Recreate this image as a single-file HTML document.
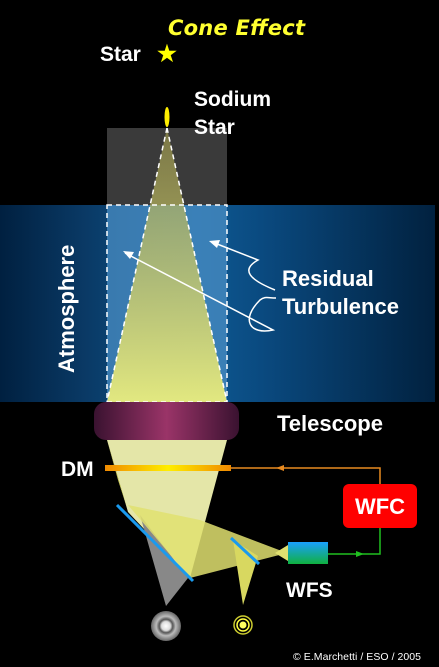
<!DOCTYPE html>
<html><head><meta charset="utf-8"><style>
body{margin:0;background:#000;width:439px;height:667px;overflow:hidden}
svg{display:block}
text{font-family:"Liberation Sans",sans-serif;font-weight:bold;fill:#fff}
</style></head><body>
<svg width="439" height="667" viewBox="0 0 439 667">
<defs>
<linearGradient id="atm" x1="0" x2="1"><stop offset="0" stop-color="#002040"/><stop offset="0.2" stop-color="#0a3a66"/><stop offset="0.45" stop-color="#0f5a93"/><stop offset="0.6" stop-color="#0a4a80"/><stop offset="1" stop-color="#01213f"/></linearGradient>
<linearGradient id="tel" x1="0" x2="1"><stop offset="0" stop-color="#3a1230"/><stop offset="0.5" stop-color="#9a3468"/><stop offset="1" stop-color="#3a1230"/></linearGradient>
<linearGradient id="cone" x1="0" y1="0" x2="0" y2="1"><stop offset="0" stop-color="#a6a050" stop-opacity="0.6"/><stop offset="1" stop-color="#e2e880"/></linearGradient>
<linearGradient id="dm" x1="0" x2="1"><stop offset="0" stop-color="#f08a00"/><stop offset="0.5" stop-color="#ffee00"/><stop offset="1" stop-color="#f08a00"/></linearGradient>
<linearGradient id="wfs" x1="0" y1="0" x2="0" y2="1"><stop offset="0" stop-color="#1aa0ff"/><stop offset="1" stop-color="#10b040"/></linearGradient>
<radialGradient id="spot1"><stop offset="0" stop-color="#fff"/><stop offset="0.3" stop-color="#ddd"/><stop offset="0.45" stop-color="#555"/><stop offset="0.65" stop-color="#bbb"/><stop offset="1" stop-color="#666"/></radialGradient>
</defs>
<rect x="0" y="205" width="435" height="197" fill="url(#atm)"/>
<rect x="107" y="128" width="120" height="77" fill="#3a3a3a"/>
<rect x="107" y="205" width="120" height="197" fill="#4a8ec4" opacity="0.75"/>
<polygon points="167,128 107,402 227,402" fill="url(#cone)"/>
<rect x="107" y="205" width="120" height="197" fill="none" stroke="#fff" stroke-width="1.5" stroke-dasharray="5,4"/>
<line x1="167" y1="128" x2="107" y2="402" stroke="#fff" stroke-width="1.5" stroke-dasharray="5,4"/>
<line x1="167" y1="128" x2="227" y2="402" stroke="#fff" stroke-width="1.5" stroke-dasharray="5,4"/>
<polygon points="107,440 227,440 190,578 128,512" fill="#e4e6a8"/>
<polygon points="107,440 127,508 118,480" fill="#cccc50"/>
<polygon points="140,515 188,578 166,606" fill="#888"/>
<polygon points="128,505 190,578 287,553 200,520" fill="#e0e070" opacity="0.85"/>
<polygon points="233,540 258,556 243,605" fill="#d8d860"/>
<polygon points="275,553 288,545 288,561" fill="#e0e070"/>
<rect x="94" y="402" width="145" height="38" rx="12" fill="url(#tel)"/>
<rect x="105" y="465" width="126" height="6" fill="url(#dm)"/>
<line x1="117" y1="505" x2="193" y2="581" stroke="#1a9aee" stroke-width="3"/>
<line x1="231" y1="538" x2="259" y2="564" stroke="#1a9aee" stroke-width="3"/>
<polyline points="231,468 380,468 380,484" fill="none" stroke="#e88a20" stroke-width="1.5"/>
<polygon points="276,468 284,465 284,471" fill="#e88a20"/>
<polyline points="328,554 380,554 380,528" fill="none" stroke="#20c020" stroke-width="1.5"/>
<polygon points="364,554 356,551 356,557" fill="#20c020"/>
<rect x="288" y="542" width="40" height="22" fill="url(#wfs)"/>
<rect x="343" y="484" width="74" height="44" rx="6" fill="#ff0000"/>
<text x="380" y="514" font-size="22" text-anchor="middle">WFC</text>
<circle cx="166" cy="626" r="15" fill="url(#spot1)"/>
<circle cx="243" cy="625" r="9" fill="none" stroke="#cccc30" stroke-width="1.5"/>
<circle cx="243" cy="625" r="6" fill="none" stroke="#ffff40" stroke-width="1.5"/>
<circle cx="243" cy="625" r="3.5" fill="#ffff60"/>
<path d="M125,253 L273,330 C250,335 240,320 260,300 C265,296 268,298 276,298" fill="none" stroke="#fff" stroke-width="1.5"/>
<polygon points="123,251 134,252 130,259" fill="#fff"/>
<path d="M212,242 L258,260 C240,270 250,280 275,290" fill="none" stroke="#fff" stroke-width="1.5"/>
<polygon points="209,241 220,240 217,248" fill="#fff"/>
<text x="168" y="35" font-size="21" font-style="italic" textLength="137" style="fill:#ffff30;font-family:'DejaVu Sans',sans-serif">Cone Effect</text>
<text x="100" y="61" font-size="21">Star</text>
<text x="167" y="61" font-size="22" text-anchor="middle" style="fill:#ffff00">★</text>
<ellipse cx="167" cy="117" rx="2.5" ry="10" fill="#ffee00"/>
<text x="194" y="106" font-size="21">Sodium</text>
<text x="194" y="134" font-size="21">Star</text>
<text transform="translate(74,373) rotate(-90)" font-size="22">Atmosphere</text>
<text x="282" y="286" font-size="22">Residual</text>
<text x="282" y="314" font-size="22">Turbulence</text>
<text x="277" y="431" font-size="22">Telescope</text>
<text x="61" y="476" font-size="21">DM</text>
<text x="286" y="597" font-size="21">WFS</text>
<text x="293" y="660" font-size="10.5" textLength="128" style="font-weight:normal">© E.Marchetti / ESO / 2005</text>
</svg>
</body></html>
